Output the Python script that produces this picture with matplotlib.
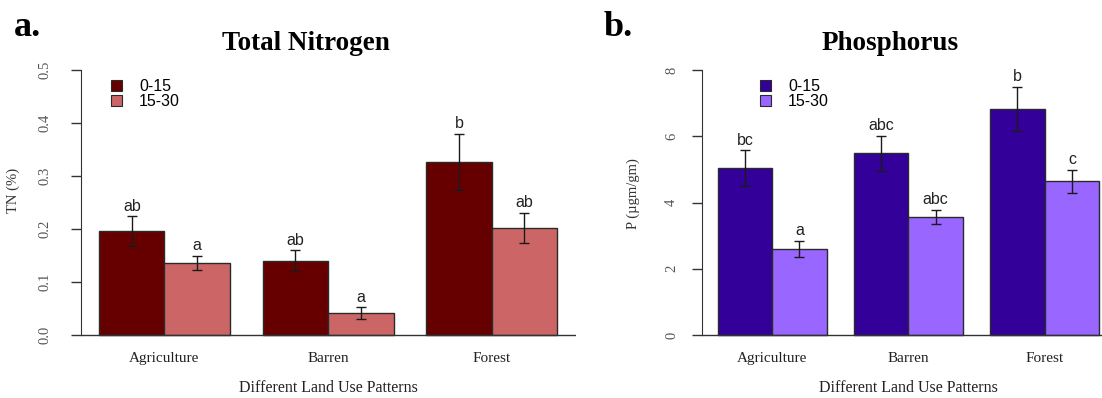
import matplotlib.pyplot as plt
from matplotlib.patches import Patch

W, H = 1102, 398

land_use = ['Agriculture', 'Barren', 'Forest']
depths = ['0-15', '15-30']

# Total nitrogen (%), means and error bar half-lengths
tn_0_15 = [0.196, 0.140, 0.327]
tn_15_30 = [0.136, 0.041, 0.202]
tn_err_0_15 = [0.028, 0.020, 0.053]
tn_err_15_30 = [0.013, 0.011, 0.029]
tn_letters_0_15 = ['ab', 'ab', 'b']
tn_letters_15_30 = ['a', 'a', 'ab']

# Phosphorus (ugm/gm)
p_0_15 = [5.04, 5.49, 6.82]
p_15_30 = [2.60, 3.56, 4.64]
p_err_0_15 = [0.53, 0.53, 0.67]
p_err_15_30 = [0.25, 0.22, 0.34]
p_letters_0_15 = ['bc', 'abc', 'b']
p_letters_15_30 = ['a', 'abc', 'c']

tn_ticks = [0.0, 0.1, 0.2, 0.3, 0.4, 0.5]
p_ticks = [0, 2, 4, 6, 8]

SERIF = 'Liberation Serif'
SANS = 'Liberation Sans'
AXIS_COL = '#333333'


def fx(px):
    return px / W


def fy(py):
    return 1 - py / H


def axes_rect(x0, x1, y_top, y_bot):
    return [fx(x0), fy(y_bot), fx(x1) - fx(x0), (y_bot - y_top) / H]


def draw_panel(ax, means1, means2, err1, err2, let1, let2, colors,
               ticks, tick_fmt, tick_pad, legend_xy, legend_pad):
    # R barplot layout: bar width 1, space c(0, 0.5)
    x1 = [1 + 2.5 * i for i in range(len(land_use))]
    x2 = [2 + 2.5 * i for i in range(len(land_use))]

    ax.bar(x1, means1, width=1, color=colors[0], edgecolor='#2a2a2a', linewidth=1, zorder=2)
    ax.bar(x2, means2, width=1, color=colors[1], edgecolor='#2a2a2a', linewidth=1, zorder=2)
    for xs, m, e in ((x1, means1, err1), (x2, means2, err2)):
        ax.errorbar(xs, m, yerr=e, fmt='none', ecolor='#1a1a1a', elinewidth=1,
                    capsize=3.6, capthick=1, zorder=3)

    for xs, m, e, lets in ((x1, means1, err1, let1), (x2, means2, err2, let2)):
        for x, v, s, t in zip(xs, m, e, lets):
            ax.annotate(t, (x, v + s), xytext=(0, 4), textcoords='offset points',
                        ha='center', va='baseline', fontsize=11.5, family=SANS,
                        color='#222222')

    span = ticks[-1] - ticks[0]
    ax.set_xlim(0.22, 7.78)
    ax.set_ylim(ticks[0] - 0.04 * span, ticks[-1] + 0.04 * span)
    ax.axhline(0, color=AXIS_COL, linewidth=1, zorder=4)

    for side in ('top', 'right', 'bottom'):
        ax.spines[side].set_visible(False)
    ax.spines['left'].set_bounds(ticks[0], ticks[-1])
    ax.spines['left'].set_color(AXIS_COL)

    ax.set_yticks(ticks)
    ax.set_yticklabels([tick_fmt.format(t) for t in ticks])
    ax.tick_params(axis='y', length=7, width=1, color=AXIS_COL, pad=tick_pad,
                   labelrotation=90, labelsize=10.5, labelcolor='#555555')
    for lab in ax.get_yticklabels():
        lab.set_family(SERIF)
        lab.set_verticalalignment('center')

    ax.set_xticks([(a + b) / 2 for a, b in zip(x1, x2)])
    ax.set_xticklabels(land_use)
    ax.tick_params(axis='x', length=0, pad=4.5, labelsize=11, labelcolor='#222222')
    for lab in ax.get_xticklabels():
        lab.set_family(SERIF)

    handles = [Patch(facecolor=c, edgecolor='#2a2a2a', linewidth=0.8) for c in colors]
    ax.legend(handles, depths, loc='upper left', bbox_to_anchor=(fx(legend_xy[0]), fy(legend_xy[1])),
              bbox_transform=ax.figure.transFigure, frameon=False, borderpad=0,
              borderaxespad=0, handlelength=0.7, handleheight=0.65,
              handletextpad=legend_pad, labelspacing=0.0,
              prop={'family': SANS, 'size': 11.5})


fig = plt.figure(figsize=(W / 100, H / 100), dpi=100)
fig.patch.set_facecolor('white')

ax_tn = fig.add_axes(axes_rect(80.7, 575.5, 59.4, 345.6))
draw_panel(ax_tn, tn_0_15, tn_15_30, tn_err_0_15, tn_err_15_30,
           tn_letters_0_15, tn_letters_15_30, ['#660000', '#CC6666'],
           tn_ticks, '{:.1f}', 14, (111, 79), 1.05)

ax_p = fig.add_axes(axes_rect(702.4, 1114.4, 59.4, 345.6))
draw_panel(ax_p, p_0_15, p_15_30, p_err_0_15, p_err_15_30,
           p_letters_0_15, p_letters_15_30, ['#330099', '#9966FF'],
           p_ticks, '{:.0f}', 10.5, (760, 79), 1.05)

# titles, panel letters and axis labels
fig.text(fx(14), fy(36), 'a.', family=SERIF, fontsize=26, fontweight='bold', va='baseline')
fig.text(fx(604), fy(36), 'b.', family=SERIF, fontsize=26, fontweight='bold', va='baseline')
fig.text(fx(306), fy(50), 'Total Nitrogen', family=SERIF, fontsize=19.5,
         fontweight='bold', ha='center', va='baseline')
fig.text(fx(890), fy(50), 'Phosphorus', family=SERIF, fontsize=19.5,
         fontweight='bold', ha='center', va='baseline')

fig.text(fx(13), fy(190), 'TN (%)', family=SERIF, fontsize=10.5, rotation=90,
         ha='center', va='center', color='#333333')
fig.text(fx(633), fy(194), 'P (\u00b5gm/gm)', family=SERIF, fontsize=10.5, rotation=90,
         ha='center', va='center', color='#333333')

fig.text(fx(328), fy(380), 'Different Land Use Patterns', family=SERIF, fontsize=11.5,
         ha='center', va='top', color='#222222')
fig.text(fx(908), fy(380), 'Different Land Use Patterns', family=SERIF, fontsize=11.5,
         ha='center', va='top', color='#222222')

fig.savefig('out.png', dpi=100, facecolor='white')
